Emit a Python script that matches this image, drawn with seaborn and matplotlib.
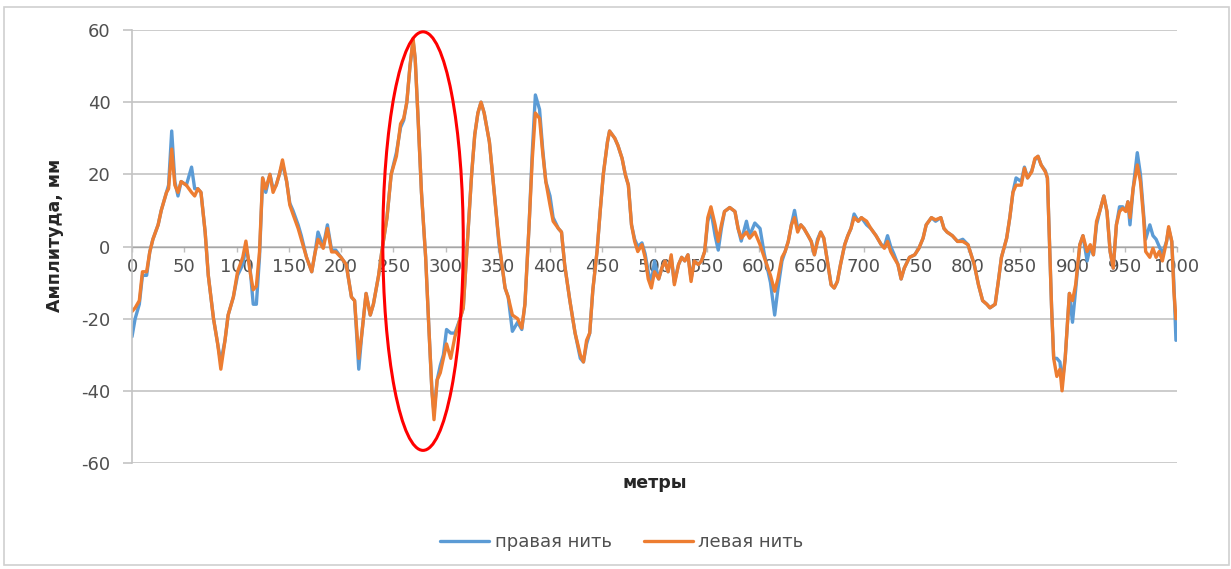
import numpy as np
import pandas as pd
import matplotlib
matplotlib.use("Agg")
import matplotlib.pyplot as plt
from matplotlib.patches import Ellipse, Rectangle
from matplotlib.lines import Line2D
import seaborn as sns

# Distance along the track, m
metres = [
    0, 3, 7, 10, 14, 17, 20, 25, 28, 33, 35, 38, 41, 44, 47, 52, 57, 60, 63, 66,
    70, 73, 78, 82, 85, 89, 92, 97, 101, 106, 109, 113, 116, 119, 122, 125, 128, 132, 135, 138,
    141, 144, 148, 151, 154, 159, 162, 167, 172, 175, 178, 183, 187, 191, 195, 200, 205, 210, 213, 217,
    220, 224, 228, 231, 236, 239, 244, 248, 253, 257, 260, 263, 266, 269, 271, 274, 277, 281, 284, 287,
    289, 292, 295, 298, 301, 305, 309, 314, 317, 320, 325, 328, 331, 334, 337, 342, 345, 348, 351, 354,
    357, 360, 364, 369, 373, 376, 380, 383, 386, 390, 393, 396, 400, 403, 408, 411, 414, 419, 424, 429,
    432, 435, 438, 441, 445, 448, 451, 455, 457, 462, 465, 469, 472, 475, 478, 481, 484, 488, 491, 494,
    497, 500, 504, 507, 510, 513, 516, 519, 523, 526, 529, 532, 535, 538, 542, 545, 548, 551, 554, 558,
    561, 564, 567, 572, 577, 580, 583, 588, 591, 596, 601, 605, 611, 615, 618, 622, 625, 628, 631, 634,
    637, 640, 643, 647, 650, 653, 656, 659, 662, 666, 669, 672, 675, 678, 682, 685, 688, 691, 695, 698,
    703, 707, 712, 717, 720, 723, 726, 729, 733, 736, 739, 744, 749, 753, 757, 760, 765, 769, 774, 777,
    780, 785, 790, 795, 800, 806, 810, 814, 818, 821, 826, 829, 832, 837, 840, 843, 846, 851, 854, 857,
    861, 864, 867, 870, 874, 876, 878, 880, 882, 885, 888, 890, 893, 895, 897, 900, 903, 907, 910, 914,
    917, 920, 923, 926, 930, 933, 936, 939, 942, 945, 948, 951, 953, 955, 958, 962, 965, 968, 970, 974,
    977, 980, 983, 986, 990, 992, 995, 997, 999,
]

# Left rail amplitude, mm
left_rail = [
    -18, -17, -15, -7, -7, -1.5, 2, 6, 10, 15, 16, 27, 17, 15, 18, 17, 15, 14, 16, 15,
    4, -8, -20, -27, -34, -26, -19, -14, -7, -3, 1.5, -7, -12, -11, -1.5, 19, 16, 20, 15, 17,
    20, 24, 18, 11.5, 9, 5, 2, -3, -7, -2, 2, -0.5, 5, -1.5, -1.5, -3, -5, -14, -15, -31,
    -24, -13, -19, -16, -8, -1.5, 8, 20, 25, 34, 35.5, 40, 50, 57.6, 52, 34, 15, -3, -22, -40,
    -48, -37, -35, -31, -27, -31, -25, -20, -17, -3, 20, 31, 37, 40, 37, 29, 20, 10.6, 2, -5,
    -11.5, -14, -19, -20, -22.6, -16, 6, 24, 37, 35.5, 26, 18, 11.5, 7, 5, 4, -5, -15, -24, -30,
    -32, -26, -24, -12, -1.4, 9.7, 20, 29, 32, 30, 28, 24.4, 20, 17, 6, 1.4, -1.4, 0.5, -3, -9,
    -11.5, -7, -9, -6, -4, -7, -2.3, -10.6, -5, -3, -4, -2.3, -9.7, -4, -5, -4, -1.4, 8, 11, 6,
    1.4, 6, 9.7, 10.8, 9.7, 5, 2.3, 4, 2.3, 4, 0.5, -3, -8, -12.4, -9, -3, -1.4, 1.4, 6, 8,
    4, 6, 5, 3, 1.4, -2.3, 1.4, 4, 2.3, -5, -10.6, -11.5, -9.7, -5, 0.5, 3, 5, 8, 7, 8,
    7, 5, 3, 0.5, -0.5, 1.4, -1.4, -3, -5, -9, -6, -3, -2.3, -0.5, 2.3, 6, 8, 7.4, 8, 5,
    4, 3, 1.4, 1.4, 0.5, -5, -10.6, -15, -16, -17, -16, -9.7, -3, 2.3, 8, 15, 17, 17, 21.7, 19,
    20.7, 24.4, 25, 22.6, 20.7, 19, 1.4, -17, -31, -36, -34, -40, -31, -22, -13, -15, -10.6, 0.5, 3, -1.4,
    0.5, -2.3, 7, 9.7, 14, 9.7, -1.4, -6, 6, 9.7, 10.6, 9.7, 12.4, 8, 16, 22.6, 18, 8, -1.4, -3,
    -0.5, -3, -1.4, -4, 1.4, 5.5, 1.4, -12.4, -20,
]

# Right rail amplitude, mm
right_rail = [
    -25, -20, -16, -8, -8, -1.5, 2, 6, 10, 15, 17, 32, 18, 14, 18, 17, 22, 16, 16, 15,
    4, -8, -20, -27, -32, -26, -19, -14, -8, -5, 0, -6, -16, -16, -3, 19, 15, 20, 16, 17,
    20, 23, 18, 12, 10, 6, 3, -3, -7, -2, 4, 0, 6, -1, -1, -3, -5, -14, -15, -34,
    -24, -13, -19, -16, -8, -1.5, 8, 20, 26, 33, 35, 40, 50, 57, 52, 34, 15, -3, -22, -40,
    -46, -37, -33, -30, -23, -24, -24, -20, -17, -3, 20, 31, 37, 40, 37, 29, 20, 11, 1, -5,
    -11.5, -14, -23.5, -21, -23, -16, 6, 26, 42, 38, 27, 18, 14, 8, 5, 4, -5, -15, -24, -31,
    -32, -27, -24, -12, -1.4, 9.7, 20, 29, 32, 30, 28, 24.4, 20, 17, 6, 2, 0, 1, -2, -7,
    -10, -4, -9, -6, -4, -7, -3, -10, -5, -3, -4, -2.3, -9, -4, -5, -4, -1.4, 7, 10, 3,
    -1, 5, 9.7, 10.8, 9.7, 5, 1.5, 7, 3, 6.5, 5, -2, -10, -19, -12, -4, -1.4, 1.4, 6, 10,
    5, 6, 5, 3, 1.4, -2.3, 2, 4, 2.3, -5, -10.6, -11.5, -9.7, -5, 0.5, 3, 5, 9, 7, 8,
    6, 5, 3, 0.5, 0, 3, 0, -2, -5, -9, -6, -3, -2.3, -0.5, 2.3, 6, 8, 7, 8, 5,
    4, 3, 1.4, 2, 0.5, -5, -10.6, -15, -16, -17, -16, -9.7, -3, 2.3, 8, 15, 19, 18, 22, 19,
    21, 24, 25, 22.6, 21, 19, 1.4, -17, -31, -31, -32, -38, -31, -22, -13, -21, -12, 0.5, 3, -4,
    0, -2.3, 6, 9.7, 14, 9.7, -1.4, -6, 6, 11, 11, 10, 12.4, 6, 16, 26, 20, 9, 2, 6,
    3, 2, 0, -2, 1.4, 5, 1.4, -10, -26,
]

series_names = ["правая нить", "левая нить"]
series_colors = ["#5B9BD5", "#ED7D31"]

y_ticks = [-60, -40, -20, 0, 20, 40, 60]
x_ticks = list(range(0, 1001, 50))

df = pd.concat([
    pd.DataFrame({"метры": metres, "амплитуда": right_rail, "нить": series_names[0]}),
    pd.DataFrame({"метры": metres, "амплитуда": left_rail, "нить": series_names[1]}),
], ignore_index=True)

sns.set_theme(style="white")
plt.rcParams["font.family"] = ["DejaVu Sans"]
plt.rcParams["axes.unicode_minus"] = False

fig = plt.figure(figsize=(12.31, 5.69), dpi=100)
ax = fig.add_axes([132 / 1231, 1 - 463 / 569, (1177 - 132) / 1231, (463 - 30) / 569])

sns.lineplot(
    data=df, x="метры", y="амплитуда", hue="нить",
    hue_order=series_names, palette=dict(zip(series_names, series_colors)),
    estimator=None, sort=False, linewidth=2.4, ax=ax, legend=False,
)

grid_color = "#C4C4C4"
text_color = "#505050"

ax.set_xlim(0, 1000)
ax.set_ylim(-60, 60)
ax.set_yticks(y_ticks)
ax.set_yticklabels([str(t) for t in y_ticks])
ax.set_xticks(x_ticks)
ax.set_xticklabels([str(t) for t in x_ticks])
ax.yaxis.grid(True, color=grid_color, linewidth=1.2)
ax.xaxis.grid(False)
ax.set_axisbelow(True)

for side in ["top", "right"]:
    ax.spines[side].set_visible(False)
ax.spines["left"].set_color(grid_color)
ax.spines["left"].set_linewidth(1.2)
ax.spines["bottom"].set_position(("data", 0))
ax.spines["bottom"].set_color("#A6A6A6")
ax.spines["bottom"].set_linewidth(1.0)
ax.spines["bottom"].set_zorder(1)

ax.tick_params(axis="y", length=6.5, width=1.2, color=grid_color, pad=9,
               labelsize=13, labelcolor=text_color, left=True)
ax.tick_params(axis="x", length=3.5, width=1.0, color="#BFBFBF", pad=5,
               labelsize=13, labelcolor=text_color, bottom=True, direction="out")

ax.set_xlabel("")
ax.set_ylabel("")
fig.text(55 / 1231, 1 - 235 / 569, "Амплитуда, мм", rotation=90, ha="center", va="center",
         fontsize=12.5, fontweight="bold", color="#262626")
fig.text(655 / 1231, 1 - 483 / 569, "метры", ha="center", va="center",
         fontsize=12.5, fontweight="bold", color="#262626")

# Highlight around the largest swing
ax.add_patch(Ellipse((278.5, 1.5), width=77, height=116, fill=False,
                     edgecolor="#FF0000", linewidth=2.2, zorder=5, clip_on=False))

handles = [Line2D([0], [0], color=c, linewidth=2.4) for c in series_colors]
fig.legend(handles, series_names, loc="center", bbox_to_anchor=(622 / 1231, 1 - 542 / 569),
           ncol=2, frameon=False, fontsize=13, handlelength=2.7, handletextpad=0.3,
           columnspacing=1.8, labelcolor=text_color)

fig.patches.append(Rectangle((4 / 1231, 4 / 569), 1225 / 1231, 558 / 569,
                             transform=fig.transFigure, fill=False,
                             edgecolor="#D0D0D0", linewidth=1.2))

fig.savefig("out.png", dpi=100, facecolor="white")
